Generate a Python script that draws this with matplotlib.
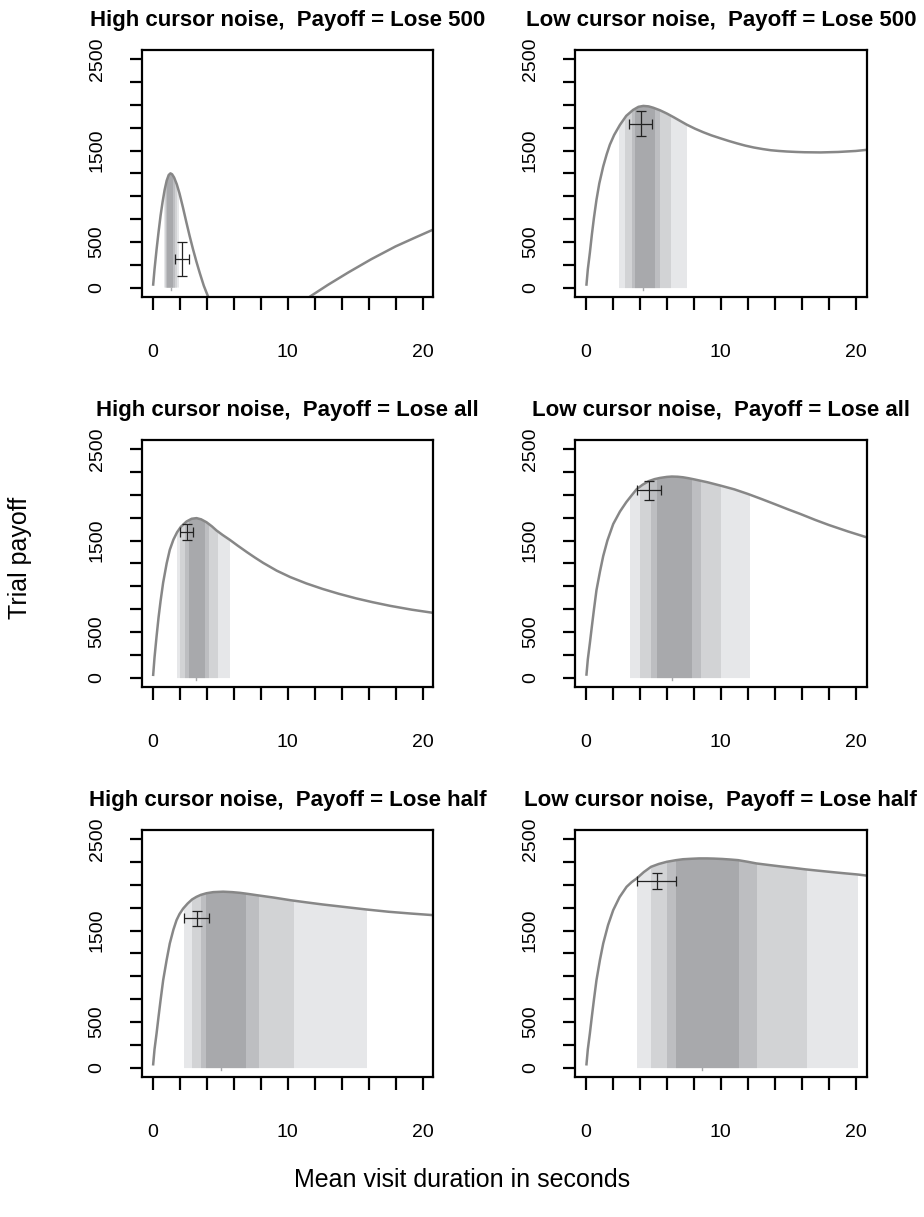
import matplotlib
matplotlib.use("Agg")
import matplotlib.pyplot as plt
from matplotlib.patches import Rectangle
import numpy as np

plt.rcParams['font.family'] = ['Liberation Sans', 'DejaVu Sans']

# panel titles, row by row (left = high noise, right = low noise)
titles = ["High cursor noise,  Payoff = Lose 500", "Low cursor noise,  Payoff = Lose 500",
          "High cursor noise,  Payoff = Lose all", "Low cursor noise,  Payoff = Lose all",
          "High cursor noise,  Payoff = Lose half", "Low cursor noise,  Payoff = Lose half"]

# expected payoff curves
curve_x = [
    [0.05, 0.15, 0.3, 0.45, 0.6, 0.75, 0.9, 1.05, 1.2, 1.33, 1.45, 1.6, 1.8, 2.0, 2.25, 2.5,
     2.75, 3.0, 3.25, 3.5, 3.8, 4.12, 4.6, 6, 8, 10, 11.65, 13, 14.5, 16.2, 18, 19.5, 20.8],
    [0.05, 0.15, 0.3, 0.45, 0.6, 0.79, 1.0, 1.29, 1.55, 1.78, 2.1, 2.53, 3.0, 3.5, 3.9, 4.26,
     4.65, 5.0, 5.5, 6.0, 6.5, 7.0, 7.49, 8.1, 8.7, 9.3, 9.96, 10.6, 11.2, 11.8, 12.44, 13.1,
     13.7, 14.3, 14.9, 15.6, 16.2, 17.4, 18.7, 20.0, 20.87],
    [0.05, 0.15, 0.3, 0.45, 0.6, 0.79, 1.05, 1.28, 1.55, 1.82, 2.1, 2.52, 2.9, 3.26, 3.6, 4.0,
     4.4, 4.74, 5.2, 5.73, 6.3, 7.0, 7.6, 8.2, 9.2, 10.2, 11.4, 12.6, 13.8, 15.1, 16.3, 17.6,
     19.2, 20.8],
    [0.05, 0.15, 0.3, 0.45, 0.6, 0.79, 1.05, 1.29, 1.6, 2.03, 2.53, 3.0, 3.4, 3.77, 4.2, 4.66,
     5.1, 5.5, 6.0, 6.37, 6.8, 7.2, 7.6, 8.0, 9.0, 10.0, 11.0, 12.0, 13.0, 14.0, 15.0, 15.9,
     17.0, 18.0, 19.4, 20.8],
    [0.05, 0.15, 0.3, 0.45, 0.6, 0.79, 1.05, 1.28, 1.55, 1.78, 2.0, 2.27, 2.6, 2.93, 3.25, 3.58,
     4.0, 4.5, 5.23, 5.9, 6.5, 7.1, 7.7, 9.0, 10.2, 11.4, 12.6, 14.2, 15.85, 17.5, 19.2, 20.8],
    [0.05, 0.15, 0.3, 0.45, 0.6, 0.79, 1.05, 1.29, 1.65, 2.03, 2.5, 3.02, 3.4, 3.77, 4.3, 4.83,
     5.4, 6.0, 6.69, 7.2, 7.8, 8.4, 8.97, 9.5, 10.1, 10.7, 11.28, 12.0, 12.64, 13.5, 14.5, 15.4,
     16.28, 17.2, 18.2, 19.1, 20.07, 20.87],
]
curve_y = [
    [33, 200, 415, 610, 790, 940, 1070, 1170, 1232, 1250, 1240, 1205, 1130, 1030, 880, 720,
     565, 420, 285, 160, 20, -100, -280, -600, -700, -500, -100, 30, 165, 310, 450, 550, 635],
    [33, 200, 380, 580, 760, 960, 1140, 1326, 1460, 1563, 1670, 1781, 1880, 1944, 1978, 1988,
     1983, 1968, 1940, 1905, 1865, 1823, 1782, 1738, 1700, 1666, 1634, 1604, 1578, 1554, 1533,
     1516, 1503, 1495, 1489, 1484, 1481, 1479, 1484, 1495, 1508],
    [30, 220, 449, 660, 840, 1040, 1250, 1398, 1510, 1590, 1650, 1708, 1738, 1745, 1732, 1700,
     1655, 1610, 1560, 1507, 1445, 1372, 1312, 1255, 1170, 1100, 1030, 970, 917, 866, 825, 785,
     743, 708],
    [33, 200, 375, 560, 740, 956, 1160, 1330, 1500, 1680, 1817, 1920, 1995, 2062, 2110, 2150,
     2172, 2185, 2196, 2200, 2198, 2192, 2182, 2170, 2138, 2100, 2060, 2010, 1955, 1898, 1840,
     1790, 1725, 1670, 1600, 1535],
    [36, 200, 372, 560, 740, 956, 1180, 1358, 1510, 1613, 1680, 1740, 1795, 1840, 1868, 1890,
     1908, 1920, 1925, 1920, 1912, 1900, 1887, 1860, 1832, 1808, 1785, 1758, 1730, 1705, 1685,
     1668],
    [36, 200, 372, 560, 740, 956, 1180, 1358, 1560, 1723, 1865, 1978, 2030, 2070, 2140, 2197,
     2228, 2252, 2270, 2280, 2285, 2289, 2289, 2287, 2283, 2277, 2270, 2252, 2234, 2218, 2200,
     2185, 2169, 2155, 2140, 2127, 2114, 2100],
]

# shaded duration intervals: (outer, ..., inner) per panel
bands = [
    [(0.84, 1.93), (0.93, 1.78), (1.02, 1.64), (1.10, 1.52)],
    [(2.45, 7.43), (2.90, 6.25), (3.40, 5.43), (3.64, 5.06)],
    [(1.80, 5.68), (2.07, 4.77), (2.42, 4.08), (2.70, 3.78)],
    [(3.27, 12.07), (4.01, 9.96), (4.83, 8.48), (5.25, 7.81)],
    [(2.34, 15.85), (2.93, 10.40), (3.58, 7.78), (3.95, 6.84)],
    [(3.77, 20.07), (4.83, 16.28), (6.00, 12.64), (6.69, 11.28)],
]
mode_x = [1.36, 4.26, 3.21, 6.42, 5.11, 8.6]

# observed mean duration / payoff with error bars
obs_x = [2.20, 4.07, 2.52, 4.66, 3.26, 5.26]
obs_y = [315, 1795, 1598, 2050, 1632, 2041]
obs_xerr = [0.52, 0.84, 0.50, 0.89, 0.93, 1.44]
obs_yerr = [183, 133, 88, 106, 84, 91]

band_cols = ['#e6e7e9', '#d2d3d5', '#bdbec1', '#a8a9ac']

fig = plt.figure(figsize=(9.24, 12.17), dpi=100)
W, H = 924, 1217
col_left = [141.7, 575.0]
row_top = [50.0, 440.0, 830.0]
bw, bh = 291.6, 246.7

for i in range(6):
    r, c = divmod(i, 2)
    ax = fig.add_axes([col_left[c] / W, 1 - (row_top[r] + bh) / H, bw / W, bh / H])
    cx = np.array(curve_x[i])
    cy = np.array(curve_y[i])
    for (lo, hi), col in zip(bands[i], band_cols):
        poly = ax.fill_between(cx, 0, cy, where=cy > 0, color=col, lw=0, zorder=1)
        poly.set_clip_path(Rectangle((lo, 0), hi - lo, 3000, transform=ax.transData))
    ax.plot([mode_x[i], mode_x[i]], [-25, 0], color='#a8a9ac', lw=1, zorder=1)
    ax.plot(cx, cy, color='#878787', lw=1.8, zorder=2, solid_joinstyle='round')
    ax.errorbar(obs_x[i], obs_y[i], xerr=obs_xerr[i], yerr=obs_yerr[i], fmt='none',
                ecolor='#222222', elinewidth=0.9, capsize=3.3, capthick=0.9, zorder=3)

    ax.set_xlim(-0.8, 20.8)
    ax.set_ylim(-100, 2600)
    xt = np.arange(0, 21, 2)
    ax.set_xticks(xt)
    ax.set_xticklabels([str(v) if v in (0, 10, 20) else '' for v in xt])
    yt = np.arange(0, 2501, 250)
    ax.set_yticks(yt)
    ax.set_yticklabels([str(v) if v in (0, 500, 1500, 2500) else '' for v in yt],
                       rotation=90, va='center')
    ax.tick_params(axis='both', direction='out', length=9, width=1.6, labelsize=14)
    ax.tick_params(axis='x', pad=25)
    ax.tick_params(axis='y', pad=17)
    for s in ax.spines.values():
        s.set_linewidth(1.6)
    ax.set_title(titles[i], fontsize=16, fontweight='bold', pad=17)

fig.text(20 / W, 1 - 558 / H, "Trial payoff", rotation=90, ha='center', va='center', fontsize=18)
fig.text(462 / W, 1 - 1180 / H, "Mean visit duration in seconds", ha='center', va='center',
         fontsize=18)

fig.savefig("out.png", dpi=100)
